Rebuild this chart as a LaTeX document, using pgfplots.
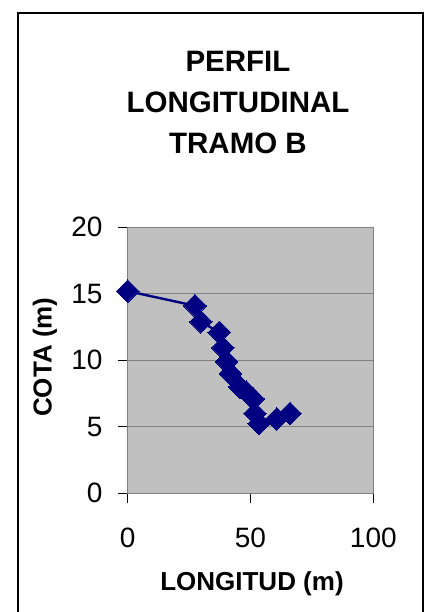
\documentclass[border=0pt]{standalone}
\usepackage{pgfplots}
\pgfplotsset{compat=1.18}
\usepackage{fontspec}
\setmainfont{Liberation Sans}
\definecolor{plotbg}{RGB}{192,192,192}
\definecolor{gridgray}{RGB}{128,128,128}
\definecolor{navyline}{RGB}{0,0,128}
\begin{document}
\begin{tikzpicture}[x=1pt,y=1pt]
\useasboundingbox (0,0) rectangle (446,612);
% chart frame (bottom edge is cut off in the reference)
\draw[black, line width=2pt] (18.3,-20) -- (18.3,599) -- (423,599) -- (423,-20);
\begin{axis}[
  at={(127.7pt,118.7pt)}, anchor=south west,
  scale only axis, width=245.6pt, height=266pt,
  xmin=0, xmax=100, ymin=0, ymax=20,
  xtick={0,50,100}, ytick={0,5,10,15,20},
  axis background/.style={fill=plotbg},
  axis line style={gridgray, line width=0.8pt},
  ymajorgrids, major grid style={gridgray, line width=0.8pt},
  tick align=outside, major tick length=10pt,
  tick style={black, line width=0.8pt},
  xtick pos=bottom, ytick pos=left,
  /pgf/number format/assume math mode=true,
  tick label style={font=\fontsize{28}{30}\selectfont, inner sep=0pt},
  yticklabel style={anchor=east, xshift=-15pt},
  xticklabel style={anchor=center, yshift=-35pt},
  title={PERFIL\\LONGITUDINAL\\TRAMO B},
  title style={at={(axis description cs:0.449,1.445)}, anchor=center,
    align=center, font=\bfseries\fontsize{29.5}{41}\selectfont},
  xlabel={LONGITUD (m)},
  xlabel style={at={(axis description cs:0.506,-0.341)}, anchor=center,
    font=\bfseries\fontsize{26}{28}\selectfont, inner sep=0pt},
  ylabel={COTA (m)},
  ylabel style={at={(axis description cs:-0.337,0.512)}, anchor=center,
    rotate=0, font=\bfseries\fontsize{26}{28}\selectfont, inner sep=0pt},
]
\addplot[navyline, line width=2.4pt, mark=square*, mark size=8pt,
  mark options={rotate=45, fill=navyline, draw=navyline, line width=0pt}]
  coordinates {
  (0,15.2) (27.4,14.1) (29.8,12.9) (37.3,12.1) (38.7,10.95) (40.3,9.9)
  (41.8,9.0) (45.7,8.0) (48.4,7.6) (51.1,7.1) (51.8,6.0) (53.5,5.25)
  (60.7,5.6) (66.1,6.0)
  };
\end{axis}
\end{tikzpicture}
\end{document}
